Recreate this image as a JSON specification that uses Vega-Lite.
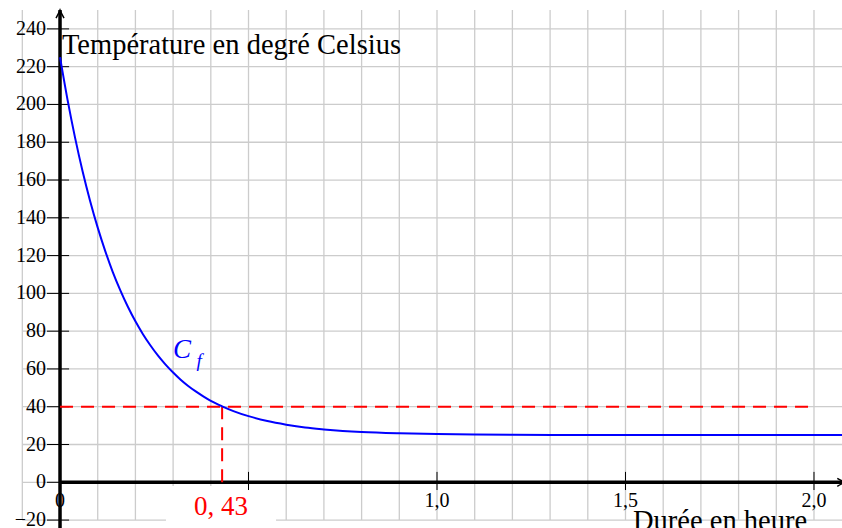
{
  "$schema": "https://vega.github.io/schema/vega-lite/v6.json",
  "width": 842,
  "height": 528,
  "autosize": "none",
  "padding": 0,
  "background": "white",
  "config": {"view": {"stroke": null}, "text": {"font": "'Liberation Serif', 'DejaVu Serif', serif"}},
  "datasets": {
    "vgrid": [{"v": -0.1}, {"v": 0}, {"v": 0.1}, {"v": 0.2}, {"v": 0.3}, {"v": 0.4}, {"v": 0.5}, {"v": 0.6}, {"v": 0.7}, {"v": 0.8}, {"v": 0.9}, {"v": 1.0}, {"v": 1.1}, {"v": 1.2}, {"v": 1.3}, {"v": 1.4}, {"v": 1.5}, {"v": 1.6}, {"v": 1.7}, {"v": 1.8}, {"v": 1.9}, {"v": 2.0}],
    "hgrid": [{"v": -20}, {"v": 0}, {"v": 20}, {"v": 40}, {"v": 60}, {"v": 80}, {"v": 100}, {"v": 120}, {"v": 140}, {"v": 160}, {"v": 180}, {"v": 200}, {"v": 220}, {"v": 240}],
    "yticks": [{"v": -20, "lab": "−20"}, {"v": 0, "lab": "0"}, {"v": 20, "lab": "20"}, {"v": 40, "lab": "40"}, {"v": 60, "lab": "60"}, {"v": 80, "lab": "80"}, {"v": 100, "lab": "100"}, {"v": 120, "lab": "120"}, {"v": 140, "lab": "140"}, {"v": 160, "lab": "160"}, {"v": 180, "lab": "180"}, {"v": 200, "lab": "200"}, {"v": 220, "lab": "220"}, {"v": 240, "lab": "240"}],
    "xticks": [{"v": 0.5, "lab": ""}, {"v": 1.0, "lab": "1,0"}, {"v": 1.5, "lab": "1,5"}, {"v": 2.0, "lab": "2,0"}],
    "curve": [
      {"t": 0, "T": 225}, {"t": 0.02, "T": 202.4}, {"t": 0.04, "T": 182.3}, {"t": 0.06, "T": 164.5}, {"t": 0.08, "T": 148.8},
      {"t": 0.10, "T": 134.8}, {"t": 0.12, "T": 122.4}, {"t": 0.14, "T": 111.3}, {"t": 0.16, "T": 101.6}, {"t": 0.18, "T": 92.9},
      {"t": 0.20, "T": 85.2}, {"t": 0.22, "T": 78.4}, {"t": 0.24, "T": 72.4}, {"t": 0.26, "T": 67.0}, {"t": 0.28, "T": 62.3},
      {"t": 0.30, "T": 58.1}, {"t": 0.32, "T": 54.3}, {"t": 0.34, "T": 51.0}, {"t": 0.36, "T": 48.1}, {"t": 0.38, "T": 45.5},
      {"t": 0.40, "T": 43.1}, {"t": 0.43, "T": 40.2}, {"t": 0.46, "T": 37.7}, {"t": 0.50, "T": 35.0}, {"t": 0.55, "T": 32.4},
      {"t": 0.60, "T": 30.5}, {"t": 0.65, "T": 29.0}, {"t": 0.70, "T": 28.0}, {"t": 0.75, "T": 27.2}, {"t": 0.80, "T": 26.6},
      {"t": 0.90, "T": 25.9}, {"t": 1.00, "T": 25.5}, {"t": 1.10, "T": 25.3}, {"t": 1.20, "T": 25.15}, {"t": 1.40, "T": 25.05},
      {"t": 1.60, "T": 25.01}, {"t": 2.08, "T": 25.0}
    ]
  },
  "layer": [
    {
      "data": {"name": "vgrid"},
      "mark": {"type": "rule", "stroke": "#cccccc", "strokeWidth": 1.3},
      "encoding": {
        "x": {"field": "v", "type": "quantitative", "scale": {"domain": [-0.1592, 2.0743], "nice": false, "zero": false}, "axis": null},
        "y": {"datum": -20, "type": "quantitative", "scale": {"domain": [-24.2, 255.3], "nice": false, "zero": false}, "axis": null},
        "y2": {"datum": 250}
      }
    },
    {
      "data": {"name": "hgrid"},
      "mark": {"type": "rule", "stroke": "#cccccc", "strokeWidth": 1.3},
      "encoding": {
        "y": {"field": "v", "type": "quantitative"},
        "x": {"datum": -0.1, "type": "quantitative"},
        "x2": {"datum": 2.2}
      }
    },
    {
      "data": {"values": [{"a": 0.281, "b": 0.573, "c": -1.96, "d": -26}]},
      "mark": {"type": "rect", "fill": "white"},
      "encoding": {
        "x": {"field": "a", "type": "quantitative"},
        "x2": {"field": "b"},
        "y": {"field": "c", "type": "quantitative"},
        "y2": {"field": "d"}
      }
    },
    {
      "data": {"name": "yticks"},
      "mark": {"type": "rule", "stroke": "black", "strokeWidth": 1},
      "encoding": {
        "y": {"field": "v", "type": "quantitative"},
        "x": {"datum": -0.0345, "type": "quantitative"},
        "x2": {"datum": 0.024}
      }
    },
    {
      "data": {"name": "xticks"},
      "mark": {"type": "rule", "stroke": "black", "strokeWidth": 1},
      "encoding": {
        "x": {"field": "v", "type": "quantitative"},
        "y": {"datum": -4.1, "type": "quantitative"},
        "y2": {"datum": 5.5}
      }
    },
    {
      "data": {"values": [{"x1": 0, "x2": 2.083, "y1": 0, "y2": 0}, {"x1": 0, "x2": 0, "y1": -26, "y2": 250}]},
      "mark": {"type": "rule", "stroke": "black", "strokeWidth": 3.5},
      "encoding": {
        "x": {"field": "x1", "type": "quantitative"},
        "x2": {"field": "x2"},
        "y": {"field": "y1", "type": "quantitative"},
        "y2": {"field": "y2"}
      }
    },
    {
      "data": {"values": [{"x": 0, "y": 250}]},
      "mark": {"type": "point", "shape": "M-1,2 Q-0.3,0.8 0,0 Q0.3,0.8 1,2", "filled": false, "stroke": "black", "strokeWidth": 1.5, "size": 64, "opacity": 1},
      "encoding": {
        "x": {"field": "x", "type": "quantitative"},
        "y": {"field": "y", "type": "quantitative"}
      }
    },
    {
      "data": {"values": [{"x": 2.083, "y": 0}]},
      "mark": {"type": "point", "shape": "M-2,-1 Q-0.8,-0.3 0,0 Q-0.8,0.3 -2,1", "filled": false, "stroke": "black", "strokeWidth": 1.5, "size": 64, "opacity": 1},
      "encoding": {
        "x": {"field": "x", "type": "quantitative"},
        "y": {"field": "y", "type": "quantitative"}
      }
    },
    {
      "data": {"name": "yticks"},
      "mark": {"type": "text", "fontSize": 20, "align": "right", "baseline": "middle", "dx": -1, "color": "black"},
      "encoding": {
        "y": {"field": "v", "type": "quantitative"},
        "x": {"datum": -0.0345, "type": "quantitative"},
        "text": {"field": "lab"}
      }
    },
    {
      "data": {"values": [{"v": 0, "lab": "0"}, {"v": 1.0, "lab": "1,0"}, {"v": 1.5, "lab": "1,5"}, {"v": 2.0, "lab": "2,0"}]},
      "mark": {"type": "text", "fontSize": 20, "align": "center", "baseline": "alphabetic", "color": "black"},
      "encoding": {
        "x": {"field": "v", "type": "quantitative"},
        "y": {"datum": -13.1, "type": "quantitative"},
        "text": {"field": "lab"}
      }
    },
    {
      "data": {"values": [{"x1": 0, "x2": 2.0, "y1": 40, "y2": 40}, {"x1": 0.43, "x2": 0.43, "y1": 0, "y2": 40}]},
      "mark": {"type": "rule", "stroke": "#ff0000", "strokeWidth": 2, "strokeDash": [13, 8]},
      "encoding": {
        "x": {"field": "x1", "type": "quantitative"},
        "x2": {"field": "x2"},
        "y": {"field": "y1", "type": "quantitative"},
        "y2": {"field": "y2"}
      }
    },
    {
      "data": {"name": "curve"},
      "mark": {"type": "line", "stroke": "#0000ff", "strokeWidth": 2, "interpolate": "monotone"},
      "encoding": {
        "x": {"field": "t", "type": "quantitative"},
        "y": {"field": "T", "type": "quantitative"}
      }
    },
    {
      "data": {"values": [{"x": 0.005, "y": 226.7, "txt": "Température en degré Celsius"}, {"x": 1.52, "y": -25.3, "txt": "Durée en heure"}]},
      "mark": {"type": "text", "fontSize": 28.5, "align": "left", "baseline": "alphabetic", "color": "black"},
      "encoding": {
        "x": {"field": "x", "type": "quantitative"},
        "y": {"field": "y", "type": "quantitative"},
        "text": {"field": "txt"}
      }
    },
    {
      "data": {"values": [{"x": 0.427, "y": -17.4, "txt": "0, 43"}]},
      "mark": {"type": "text", "fontSize": 27, "align": "center", "baseline": "alphabetic", "color": "#ff0000"},
      "encoding": {
        "x": {"field": "x", "type": "quantitative"},
        "y": {"field": "y", "type": "quantitative"},
        "text": {"field": "txt"}
      }
    },
    {
      "data": {"values": [{"x": 0.30, "y": 65.8, "txt": "C"}]},
      "mark": {"type": "text", "fontSize": 27, "fontStyle": "italic", "align": "left", "baseline": "alphabetic", "color": "#0000ff"},
      "encoding": {
        "x": {"field": "x", "type": "quantitative"},
        "y": {"field": "y", "type": "quantitative"},
        "text": {"field": "txt"}
      }
    },
    {
      "data": {"values": [{"x": 0.362, "y": 61.0, "txt": "f"}]},
      "mark": {"type": "text", "fontSize": 19, "fontStyle": "italic", "align": "left", "baseline": "alphabetic", "color": "#0000ff"},
      "encoding": {
        "x": {"field": "x", "type": "quantitative"},
        "y": {"field": "y", "type": "quantitative"},
        "text": {"field": "txt"}
      }
    }
  ]
}
